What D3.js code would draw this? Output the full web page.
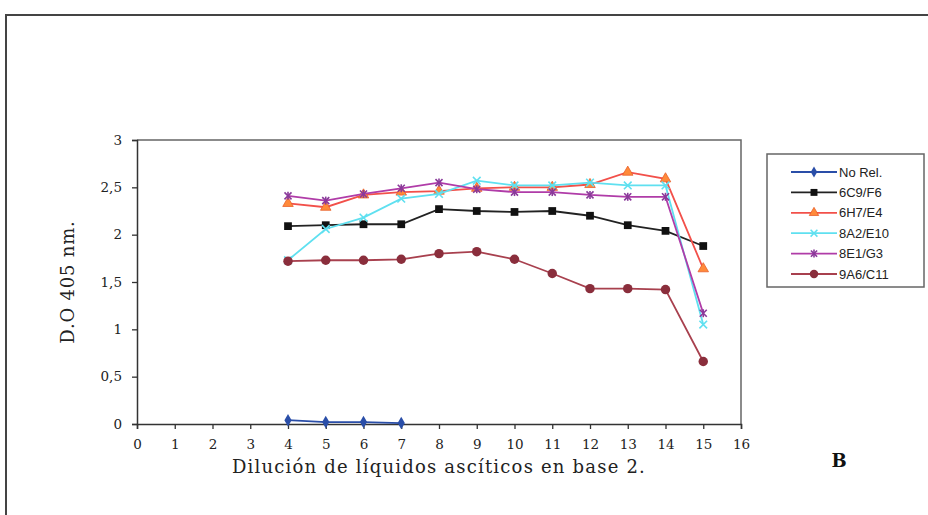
<!DOCTYPE html>
<html>
<head>
<meta charset="utf-8">
<script src="https://cdn.jsdelivr.net/npm/d3@7"></script>
<style>
  html, body { margin: 0; padding: 0; background: #fff; }
  svg { display: block; }
</style>
</head>
<body>
<svg id="chart" width="928" height="515"></svg>
<script>
// Dilution steps (log2) and optical density readings at 405 nm
const dilutions = [4, 5, 6, 7, 8, 9, 10, 11, 12, 13, 14, 15];
const noRel   = [0.04, 0.02, 0.02, 0.01];
const c6C9F6  = [2.09, 2.10, 2.11, 2.11, 2.27, 2.25, 2.24, 2.25, 2.20, 2.10, 2.04, 1.88];
const c6H7E4  = [2.33, 2.29, 2.42, 2.45, 2.46, 2.49, 2.50, 2.50, 2.53, 2.66, 2.59, 1.64];
const c8A2E10 = [1.73, 2.06, 2.18, 2.38, 2.43, 2.57, 2.52, 2.52, 2.55, 2.52, 2.52, 1.05];
const c8E1G3  = [2.41, 2.36, 2.43, 2.49, 2.55, 2.48, 2.45, 2.45, 2.42, 2.40, 2.40, 1.17];
const c9A6C11 = [1.72, 1.73, 1.73, 1.74, 1.80, 1.82, 1.74, 1.59, 1.43, 1.43, 1.42, 0.66];

const seriesNames = ["No Rel.", "6C9/F6", "6H7/E4", "8A2/E10", "8E1/G3", "9A6/C11"];
const xTicks = d3.range(0, 17);
const yTicks = [0, 0.5, 1, 1.5, 2, 2.5, 3];

const series = [
  { name: seriesNames[0], values: noRel,   line: "#2a4ea8", fill: "#2a4ea8", shape: "diamond" },
  { name: seriesNames[1], values: c6C9F6,  line: "#222222", fill: "#111111", shape: "square" },
  { name: seriesNames[2], values: c6H7E4,  line: "#f2504a", fill: "#ff8a3a", shape: "triangle" },
  { name: seriesNames[3], values: c8A2E10, line: "#5fe0f0", fill: "#5fe0f0", shape: "cross" },
  { name: seriesNames[4], values: c8E1G3,  line: "#b03ca8", fill: "#8a3a9a", shape: "star" },
  { name: seriesNames[5], values: c9A6C11, line: "#a8404e", fill: "#8a2e3c", shape: "circle" }
];

const svg = d3.select("#chart");

// outer figure frame
svg.append("path")
  .attr("d", "M6,515 L6,15 L928,15")
  .attr("fill", "none").attr("stroke", "#444").attr("stroke-width", 2);

const plot = { left: 137, right: 741, top: 140, bottom: 424 };
const x = d3.scaleLinear().domain([0, 16]).range([plot.left, plot.right]);
const y = d3.scaleLinear().domain([0, 3]).range([plot.bottom, plot.top]);

// plot area border (top and right)
svg.append("path")
  .attr("d", `M${plot.left},${plot.top} L${plot.right},${plot.top} L${plot.right},${plot.bottom}`)
  .attr("fill", "none").attr("stroke", "#666").attr("stroke-width", 1.5);

const serif = "'DejaVu Serif', 'Liberation Serif', serif";

// axes
const xAxis = svg.append("g")
  .attr("transform", `translate(0,${plot.bottom})`)
  .call(d3.axisBottom(x).tickValues(xTicks).tickSize(5).tickPadding(10).tickFormat(d3.format("d")));
const yAxis = svg.append("g")
  .attr("transform", `translate(${plot.left},0)`)
  .call(d3.axisLeft(y).tickValues(yTicks).tickSize(5).tickPadding(10)
    .tickFormat(d => String(d).replace(".", ",")));

[xAxis, yAxis].forEach(g => {
  g.select(".domain").attr("stroke", "#333").attr("stroke-width", 1.5);
  g.selectAll(".tick line").attr("stroke", "#333").attr("stroke-width", 1.3);
  g.selectAll(".tick text").attr("fill", "#222")
    .style("font-family", serif).style("font-size", "13.5px");
});

// axis titles
svg.append("text")
  .attr("x", (plot.left + plot.right) / 2).attr("y", 473)
  .attr("text-anchor", "middle")
  .style("font-family", serif).style("font-size", "18px").style("letter-spacing", "1.2px")
  .attr("fill", "#222")
  .text("Dilución de líquidos ascíticos en base 2.");

svg.append("text")
  .attr("transform", `translate(74,${(plot.top + plot.bottom) / 2}) rotate(-90)`)
  .attr("text-anchor", "middle")
  .style("font-family", serif).style("font-size", "18px").style("letter-spacing", "0.8px")
  .attr("fill", "#222")
  .text("D.O 405 nm.");

// panel letter
svg.append("text")
  .attr("x", 839).attr("y", 467).attr("text-anchor", "middle")
  .style("font-family", serif).style("font-size", "18px").style("font-weight", "bold")
  .attr("fill", "#111").text("B");

// marker drawing
function drawMarker(g, shape, cx, cy, s, k = 1) {
  const col = s.fill;
  const t = `translate(${cx},${cy})`;
  if (shape === "diamond") {
    g.append("path").attr("d", d3.symbol(d3.symbolDiamond, 45 * k)())
      .attr("transform", t).attr("fill", col);
  } else if (shape === "square") {
    g.append("path").attr("d", d3.symbol(d3.symbolSquare, 60 * k)())
      .attr("transform", t).attr("fill", col);
  } else if (shape === "triangle") {
    g.append("path").attr("d", d3.symbol(d3.symbolTriangle, 48 * k)())
      .attr("transform", t).attr("fill", col)
      .attr("stroke", "#e8602a").attr("stroke-width", 0.8);
  } else if (shape === "circle") {
    g.append("path").attr("d", d3.symbol(d3.symbolCircle, 70 * k)())
      .attr("transform", t).attr("fill", col);
  } else if (shape === "cross") {
    g.append("path").attr("d", d3.symbol(d3.symbolX, 40 * k)())
      .attr("transform", t).attr("fill", "none")
      .attr("stroke", col).attr("stroke-width", 1.6);
  } else if (shape === "star") {
    g.append("path").attr("d", d3.symbol(d3.symbolX, 34 * k)())
      .attr("transform", t).attr("fill", "none")
      .attr("stroke", col).attr("stroke-width", 1.6);
    g.append("path").attr("d", "M0,-4 L0,4")
      .attr("transform", t)
      .attr("stroke", col).attr("stroke-width", 1.6);
  }
}

const line = d3.line().x(d => x(d[0])).y(d => y(d[1]));

series.forEach(s => {
  const pts = s.values.map((v, i) => [dilutions[i], v]);
  const g = svg.append("g");
  g.append("path").datum(pts).attr("d", line)
    .attr("fill", "none").attr("stroke", s.line).attr("stroke-width", 1.8);
  pts.forEach(p => drawMarker(g, s.shape, x(p[0]), y(p[1]), s));
});

// legend
const legend = svg.append("g");
legend.append("rect")
  .attr("x", 767).attr("y", 154).attr("width", 157).attr("height", 133)
  .attr("fill", "#fff").attr("stroke", "#666").attr("stroke-width", 1.5);
series.forEach((s, i) => {
  const ly = 172 + i * 20.4;
  legend.append("line").attr("x1", 791).attr("x2", 837).attr("y1", ly).attr("y2", ly)
    .attr("stroke", s.line).attr("stroke-width", 1.8);
  drawMarker(legend, s.shape, 814, ly, s, 0.8);
  legend.append("text").attr("x", 839).attr("y", ly + 4.5)
    .style("font-family", "'Liberation Sans', Arial, sans-serif").style("font-size", "13px")
    .attr("fill", "#222").text(s.name);
});
</script>
</body>
</html>
